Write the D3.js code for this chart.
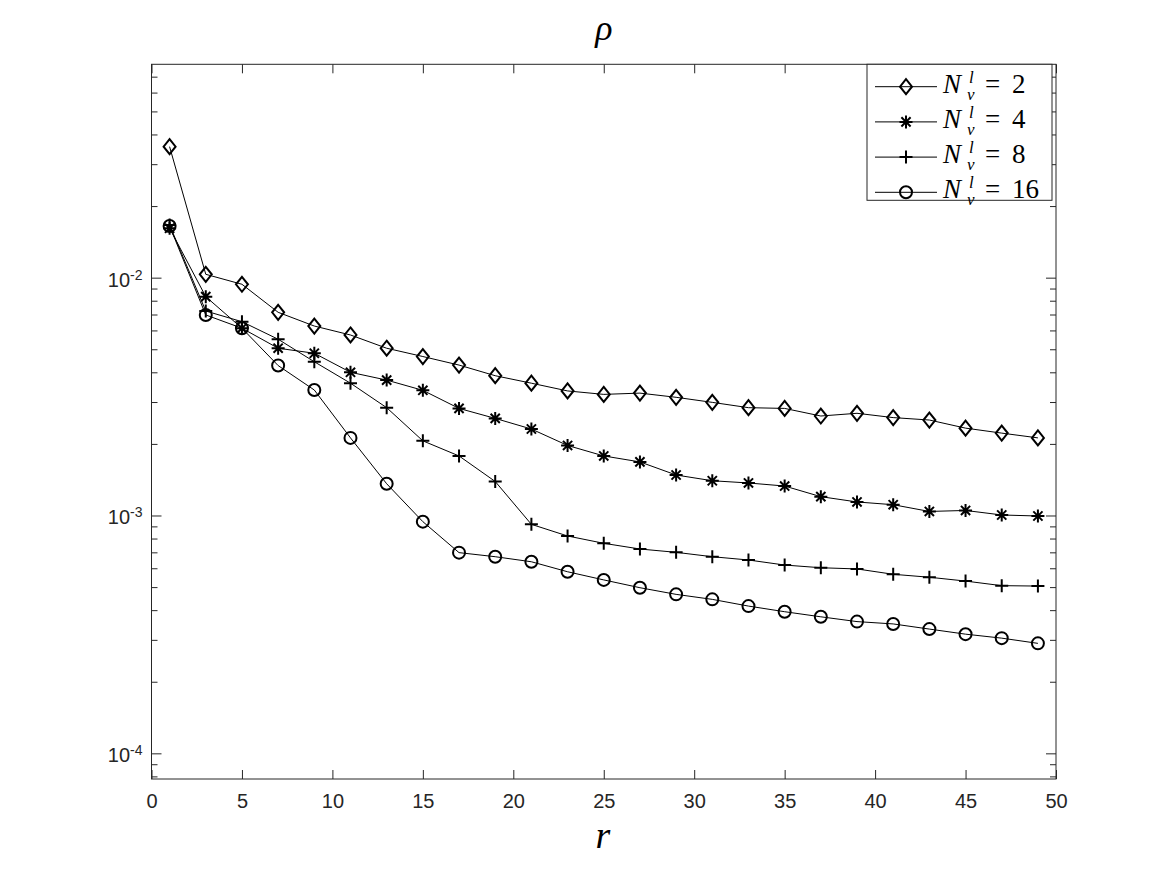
<!DOCTYPE html>
<html>
<head>
<meta charset="utf-8">
<script src="https://cdn.jsdelivr.net/npm/d3@7"></script>
<style>
  body { margin: 0; background: #fff; }
</style>
</head>
<body>
<div id="chart"></div>
<script>
// data
var rVals = [1, 3, 5, 7, 9, 11, 13, 15, 17, 19, 21, 23, 25, 27, 29, 31, 33, 35, 37, 39, 41, 43, 45, 47, 49];

var rho2 = [0.03555, 0.01033, 0.00938, 0.00715, 0.00626, 0.00574, 0.00505, 0.00466, 0.00429, 0.00387,
            0.00360, 0.00334, 0.00323, 0.00327, 0.00314, 0.00299, 0.00284, 0.00282, 0.00262, 0.00269,
            0.00258, 0.00252, 0.00233, 0.00222, 0.00212];
var rho4 = [0.01613, 0.00832, 0.00613, 0.00505, 0.00481, 0.00400, 0.00371, 0.00336, 0.00282, 0.00256,
            0.00231, 0.00197, 0.00178, 0.00168, 0.00148, 0.00140, 0.00137, 0.00133, 0.00120, 0.00114,
            0.00111, 0.00104, 0.00105, 0.001005, 0.000995];
var rho8 = [0.01666, 0.00724, 0.00653, 0.00551, 0.00443, 0.00360, 0.00284, 0.00206, 0.00178, 0.00139,
            0.000918, 0.000820, 0.000764, 0.000723, 0.000700, 0.000671, 0.000650, 0.000619, 0.000603, 0.000596,
            0.000566, 0.000550, 0.000530, 0.000507, 0.000505];
var rho16 = [0.01650, 0.00697, 0.00613, 0.00427, 0.00337, 0.00212, 0.00136, 0.000942, 0.000698, 0.000671,
             0.000639, 0.000580, 0.000536, 0.000497, 0.000466, 0.000444, 0.000416, 0.000394, 0.000375, 0.000358,
             0.000350, 0.000333, 0.000317, 0.000305, 0.000290];

var legendLabels = ["2", "4", "8", "16"];
var markerTypes = ["diamond", "star", "plus", "circle"];
var xTicks = [0, 5, 10, 15, 20, 25, 30, 35, 40, 45, 50];
var yMajor = [1e-4, 1e-3, 1e-2];

var series = [rho2, rho4, rho8, rho16].map(function(vals, i) {
  return { name: legendLabels[i], marker: markerTypes[i],
           points: rVals.map(function(r, j) { return { r: r, v: vals[j] }; }) };
});

// set the dimensions and margins of the graph
var W = 1167, H = 875;
var plot = { left: 151.5, right: 1056, top: 64.3, bottom: 779 };
var axisCol = "#262626";
var sans = "'Liberation Sans', Arial, sans-serif";
var serif = "'Liberation Serif', 'DejaVu Serif', serif";

var svg = d3.select("#chart")
  .append("svg")
    .attr("width", W)
    .attr("height", H)
    .style("font-family", sans);

var x = d3.scaleLinear().domain([0, 50]).range([plot.left, plot.right]);
var y = d3.scaleLog().domain([7.8e-5, 0.0789]).range([plot.bottom, plot.top]);

// minor log ticks (2..9 of every decade inside the domain)
var yMinor = [];
for (var e = -5; e <= -1; e++) {
  for (var k = 2; k <= 9; k++) {
    var v = k * Math.pow(10, e);
    if (v >= y.domain()[0] && v <= y.domain()[1]) yMinor.push(v);
  }
}

function styleAxis(g) {
  g.select(".domain").remove();
  g.selectAll(".tick line").attr("stroke", axisCol).attr("stroke-width", 1);
}

// x axes (bottom with labels, top ticks only)
svg.append("g")
  .attr("transform", "translate(0," + plot.bottom + ")")
  .call(d3.axisBottom(x).tickValues(xTicks).tickSize(-9).tickPadding(15))
  .call(styleAxis)
  .selectAll("text")
    .attr("fill", axisCol)
    .style("font-family", sans)
    .style("font-size", "20px");

svg.append("g")
  .attr("transform", "translate(0," + plot.top + ")")
  .call(d3.axisTop(x).tickValues(xTicks).tickSize(-9).tickFormat(""))
  .call(styleAxis);

// y axes, major + minor, left and right
svg.append("g")
  .attr("transform", "translate(" + plot.left + ",0)")
  .call(d3.axisLeft(y).tickValues(yMajor).tickSize(-10).tickFormat(""))
  .call(styleAxis);
svg.append("g")
  .attr("transform", "translate(" + plot.left + ",0)")
  .call(d3.axisLeft(y).tickValues(yMinor).tickSize(-6).tickFormat(""))
  .call(styleAxis);
svg.append("g")
  .attr("transform", "translate(" + plot.right + ",0)")
  .call(d3.axisRight(y).tickValues(yMajor).tickSize(-10).tickFormat(""))
  .call(styleAxis);
svg.append("g")
  .attr("transform", "translate(" + plot.right + ",0)")
  .call(d3.axisRight(y).tickValues(yMinor).tickSize(-6).tickFormat(""))
  .call(styleAxis);

// y tick labels 10^n
var yLab = svg.append("g").selectAll("text")
  .data(yMajor)
  .enter()
  .append("text")
    .attr("x", plot.left - 9)
    .attr("y", function(d) { return y(d) + 9; })
    .attr("text-anchor", "end")
    .attr("fill", axisCol)
    .style("font-family", sans)
    .style("font-size", "20px");
yLab.append("tspan").text("10");
yLab.append("tspan")
  .attr("dy", -7)
  .style("font-size", "14px")
  .text(function(d) { return String(Math.round(Math.log10(d))); });

// box
svg.append("rect")
  .attr("x", plot.left).attr("y", plot.top)
  .attr("width", plot.right - plot.left)
  .attr("height", plot.bottom - plot.top)
  .attr("fill", "none")
  .attr("stroke", axisCol)
  .attr("stroke-width", 1);

// markers
function drawMarker(g, type) {
  var s = 6.5;
  if (type === "diamond") {
    g.append("path")
      .attr("d", "M0," + (-7.5) + "L6,0L0,7.5L-6,0Z")
      .attr("fill", "none").attr("stroke", "#000").attr("stroke-width", 2);
  } else if (type === "circle") {
    g.append("circle").attr("r", 6)
      .attr("fill", "none").attr("stroke", "#000").attr("stroke-width", 2);
  } else if (type === "plus") {
    g.append("path")
      .attr("d", "M" + (-s) + ",0H" + s + "M0," + (-s) + "V" + s)
      .attr("stroke", "#000").attr("stroke-width", 2);
  } else if (type === "star") {
    var d = 4.6;
    g.append("path")
      .attr("d", "M" + (-s) + ",0H" + s + "M0," + (-s) + "V" + s +
                 "M" + (-d) + "," + (-d) + "L" + d + "," + d +
                 "M" + (-d) + "," + d + "L" + d + "," + (-d))
      .attr("stroke", "#000").attr("stroke-width", 2);
  }
}

var line = d3.line()
  .x(function(d) { return x(d.r); })
  .y(function(d) { return y(d.v); });

var sg = svg.append("g").selectAll("g")
  .data(series)
  .enter()
  .append("g");

sg.append("path")
  .attr("d", function(d) { return line(d.points); })
  .attr("fill", "none")
  .attr("stroke", "#000")
  .attr("stroke-width", 1);

sg.each(function(s) {
  d3.select(this).selectAll("g.mk")
    .data(s.points)
    .enter()
    .append("g")
      .attr("class", "mk")
      .attr("transform", function(d) { return "translate(" + x(d.r) + "," + y(d.v) + ")"; })
      .each(function() { drawMarker(d3.select(this), s.marker); });
});

// title and x label
svg.append("text")
  .attr("x", 604).attr("y", 40)
  .attr("text-anchor", "middle")
  .style("font-family", serif)
  .style("font-style", "italic")
  .style("font-size", "36px")
  .text("ρ");

svg.append("text")
  .attr("x", 603).attr("y", 848)
  .attr("text-anchor", "middle")
  .style("font-family", serif)
  .style("font-style", "italic")
  .style("font-size", "38px")
  .text("r");

// legend
var leg = { x: 867, y: 64.3, w: 185, h: 136, row0: 86.7, rowH: 35.2 };
svg.append("rect")
  .attr("x", leg.x).attr("y", leg.y)
  .attr("width", leg.w).attr("height", leg.h)
  .attr("fill", "#fff")
  .attr("stroke", axisCol)
  .attr("stroke-width", 1);

var li = svg.append("g").selectAll("g")
  .data(series)
  .enter()
  .append("g")
    .attr("transform", function(d, i) { return "translate(0," + (leg.row0 + i * leg.rowH) + ")"; });

li.append("line")
  .attr("x1", 875).attr("x2", 937)
  .attr("y1", 0).attr("y2", 0)
  .attr("stroke", "#000").attr("stroke-width", 1);
li.append("g")
  .attr("transform", "translate(906,0)")
  .each(function(d) { drawMarker(d3.select(this), d.marker); });

// N_v^l = n as one text with positioned tspans
var lt = li.append("text")
  .attr("y", 0)
  .style("font-family", serif)
  .style("font-size", "27px");
lt.append("tspan")
  .attr("x", 943).attr("y", 6)
  .style("font-style", "italic")
  .text("N");
lt.append("tspan")
  .attr("x", 969).attr("y", -4)
  .style("font-style", "italic")
  .style("font-size", "17px")
  .text("l");
lt.append("tspan")
  .attr("x", 967).attr("y", 13)
  .style("font-style", "italic")
  .style("font-size", "17px")
  .text("v");
lt.append("tspan")
  .attr("x", 985).attr("y", 6)
  .text("=");
lt.append("tspan")
  .attr("x", 1012).attr("y", 6)
  .text(function(d) { return d.name; });
</script>
</body>
</html>
